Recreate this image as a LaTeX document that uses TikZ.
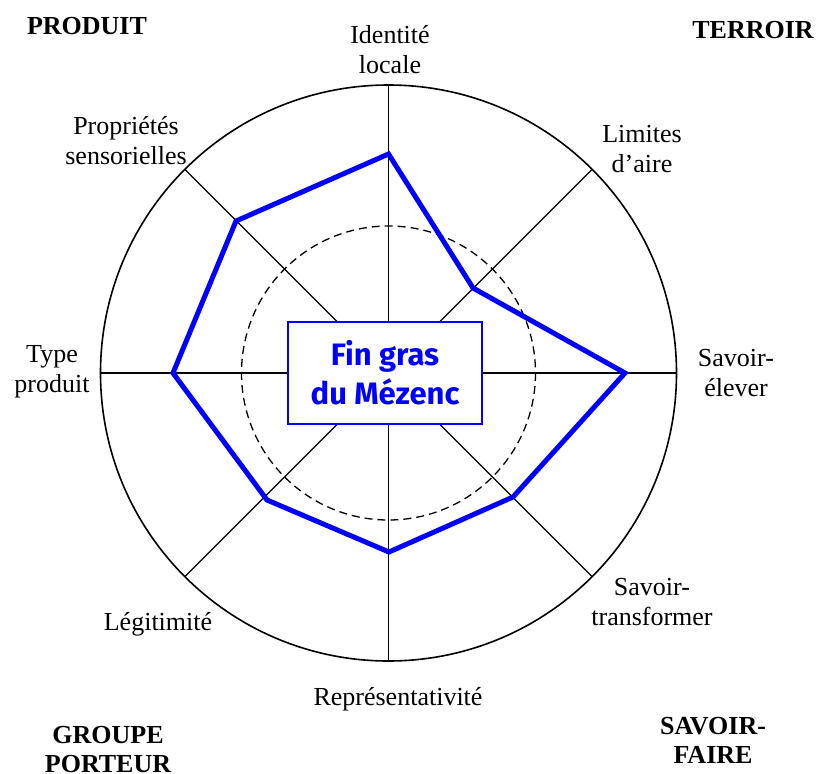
\documentclass[tikz,border=0pt]{standalone}
\usepackage{fontspec}
\setmainfont{Liberation Serif}
\newfontfamily\boxfont{Fira Sans}
\begin{document}
\begin{tikzpicture}[x=1pt,y=-1pt,
  lbl/.style={font=\fontsize{26}{30}\selectfont, align=center, anchor=base, inner sep=0pt},
  cat/.style={font=\fontsize{26}{29}\selectfont\bfseries, align=center, anchor=base, inner sep=0pt},
  spoke/.style={line width=1.3pt, black},
  ring/.style={line width=1.6pt, black},
  midring/.style={line width=1.3pt, black, dash pattern=on 8pt off 5pt},
  profile/.style={line width=5pt, draw={rgb,255:red,0;green,0;blue,255}, line join=miter},
  titlebox/.style={draw={rgb,255:red,0;green,0;blue,255}, fill=white, line width=2pt,
    minimum width=194pt, minimum height=102pt, inner sep=0pt, align=center,
    text={rgb,255:red,0;green,0;blue,255}, font=\boxfont\bfseries\fontsize{31}{39}\selectfont}
]
\useasboundingbox (0,0) rectangle (817,774);
\coordinate (O) at (388.5,373);
% outer ring ends of spokes
\coordinate (cN) at (388.5,85);
\coordinate (cNE) at (592.1,169.4);
\coordinate (cE) at (676.5,373);
\coordinate (cSE) at (592.1,576.6);
\coordinate (cS) at (388.5,661);
\coordinate (cSW) at (184.9,576.6);
\coordinate (cW) at (100.5,373);
\coordinate (cNW) at (184.9,169.4);
\draw[ring] (O) circle[radius=288];
\draw[midring] (O) circle[radius=147];
\foreach \c in {cN,cNE,cE,cSE,cS,cSW,cW,cNW}{\draw[spoke] (O) -- (\c);}
% profile
\coordinate (pN) at (388.5,154);
\coordinate (pNE) at (473,288);
\coordinate (pE) at (625,373);
\coordinate (pSE) at (513,497);
\coordinate (pS) at (389,552);
\coordinate (pSW) at (267,500);
\coordinate (pW) at (173,373);
\coordinate (pNW) at (236,221);
\draw[profile] (pN) -- (pNE) -- (pE) -- (pSE) -- (pS) -- (pSW) -- (pW) -- (pNW) -- cycle;
\node[titlebox] (title) at (385,373) {Fin gras\\du Mézenc};
% axis labels (anchor = baseline of last line)
\node[lbl] (lN) at (390,73) {Identité\\locale};
\node[lbl] (lNW) at (126,164) {Propriétés\\sensorielles};
\node[lbl] (lNE) at (642,172) {Limites\\d’aire};
\node[lbl] (lW) at (52,392) {Type\\produit};
\node[lbl] (lE) at (736,396) {Savoir-\\élever};
\node[lbl] (lSW) at (158,630) {Légitimité};
\node[lbl] (lSE) at (652,625) {Savoir-\\transformer};
\node[lbl] (lS) at (398,705) {Représentativité};
% category labels
\node[cat] (kP) at (87,34) {PRODUIT};
\node[cat] (kT) at (753,38) {TERROIR};
\node[cat] (kG) at (108,772) {GROUPE\\PORTEUR};
\node[cat] (kS) at (713,763) {SAVOIR-\\FAIRE};
\end{tikzpicture}
\end{document}
